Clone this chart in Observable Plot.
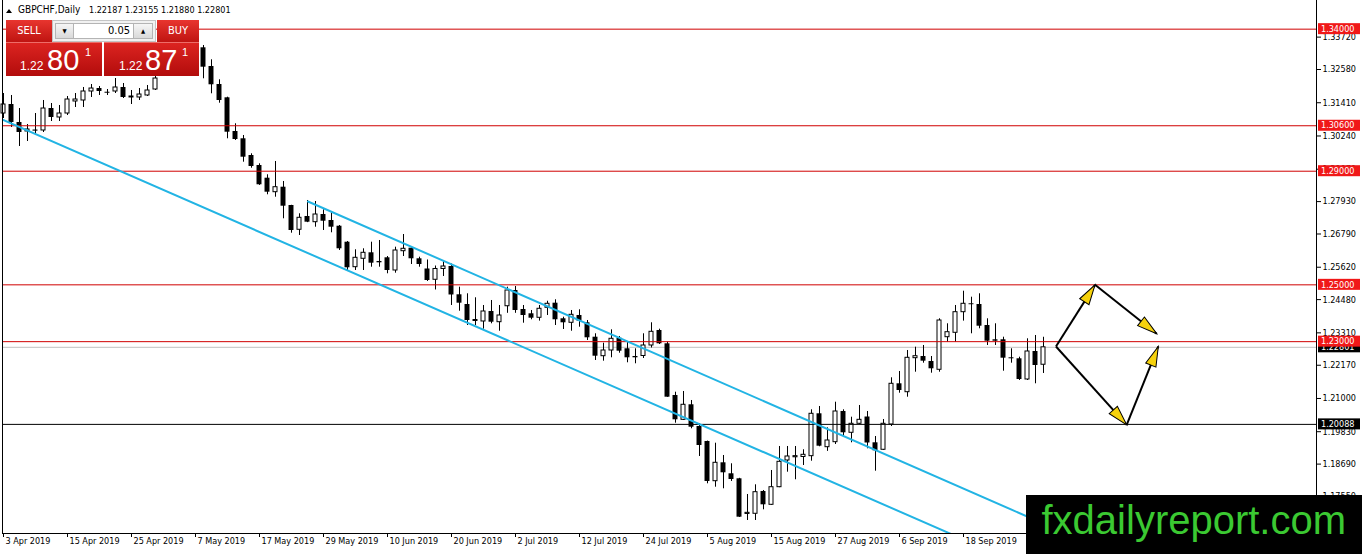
<!DOCTYPE html>
<html><head><meta charset="utf-8">
<script src="https://cdn.jsdelivr.net/npm/d3@7"></script>
<script src="https://cdn.jsdelivr.net/npm/@observablehq/plot@0.6"></script>
<style>
html,body{margin:0;padding:0;background:#fff;}
#wrap{position:relative;width:1362px;height:554px;overflow:hidden;background:#fff;}
#chart svg{display:block;}
.ov{position:absolute;box-sizing:border-box;}
.t{font-family:"DejaVu Sans Condensed","DejaVu Sans",sans-serif;}
.redbtn{background:linear-gradient(#e8352f,#bf1411);color:#fff;font-size:11px;line-height:22px;text-align:center;}
.pricebox{background:linear-gradient(#dc2420,#b20c0c);border-top:1px solid #ee6d68;}
.pf{position:absolute;font-family:"Liberation Sans",Arial,sans-serif;color:#fff;line-height:1;white-space:nowrap;}
.sb{position:absolute;top:2px;height:16px;box-sizing:border-box;background:linear-gradient(#f6f6f6,#d9d9d9);border:1px solid #b4b4b4;font-size:6px;line-height:14px;text-align:center;color:#000;}
</style></head><body>
<div id="wrap">
  <div id="chart"></div>
  <!-- title -->
  <div class="ov" style="left:6px;top:9px;width:0;height:0;border-left:3px solid transparent;border-right:3px solid transparent;border-bottom:4px solid #000;"></div>
  <div class="ov t" id="ttl1" style="left:18px;top:4.8px;font-size:10px;line-height:1;color:#000;white-space:nowrap"></div>
  <div class="ov t" id="ttl2" style="left:89px;top:5.7px;font-size:9px;line-height:1;color:#000;white-space:nowrap"></div>
  <!-- trade panel -->
  <div class="ov t redbtn" style="left:6px;top:20px;width:46px;height:22px;">SELL</div>
  <div class="ov t" style="left:52px;top:20px;width:104px;height:22px;background:#f1f1f1;border:1px solid #c4c4c4;">
    <div class="sb" style="left:2px;width:19px;">&#9660;</div>
    <div class="ov" id="lotbox" style="left:21px;top:2px;width:59px;height:16px;background:#fff;border-top:1px solid #b4b4b4;border-bottom:1px solid #b4b4b4;font-size:11px;line-height:14px;text-align:right;padding-right:3px;color:#000;"></div>
    <div class="sb" style="left:80px;width:20px;">&#9650;</div>
  </div>
  <div class="ov t redbtn" style="left:157px;top:20px;width:42px;height:22px;">BUY</div>
  <div class="ov pricebox" style="left:6px;top:42px;width:96px;height:34px;">
    <span class="pf" id="sellA" style="left:14px;top:16.6px;font-size:12px;"></span>
    <span class="pf" id="sellB" style="left:41px;top:3.3px;font-size:29px;"></span>
    <span class="pf" id="sellC" style="left:79px;top:3.6px;font-size:11px;"></span>
  </div>
  <div class="ov pricebox" style="left:104px;top:42px;width:95px;height:34px;">
    <span class="pf" id="buyA" style="left:15px;top:16.6px;font-size:12px;"></span>
    <span class="pf" id="buyB" style="left:41px;top:3.3px;font-size:29px;"></span>
    <span class="pf" id="buyC" style="left:78px;top:3.6px;font-size:11px;"></span>
  </div>
  <!-- watermark -->
  <div class="ov" style="left:1026px;top:495px;width:336px;height:59px;background:#000;">
    <span id="wm" style="position:absolute;left:15.5px;top:5px;font-family:'Liberation Sans',Arial,sans-serif;font-size:40px;line-height:1;color:#3bc932;white-space:nowrap;transform:scaleX(1.0);transform-origin:0 0;"></span>
  </div>
</div>
<script>
// ---------- data ----------
const symbolName = "GBPCHF,Daily";
const lastOHLC = [1.22187, 1.23155, 1.21880, 1.22801];
const lotSize = "0.05";
const sellPrice = ["1.22", "80", "1"];
const buyPrice = ["1.22", "87", "1"];
const watermark = "fxdailyreport.com";

const opens = [1.31031,1.31348,1.30715,1.30398,1.30450,1.30433,1.31207,1.30891,1.31031,1.31454,
1.31489,1.31806,1.31911,1.31780,1.31806,1.31947,1.31595,1.31595,1.31665,1.31876,
1.32420,1.32700,1.32600,1.33050,1.33200,1.33344,1.32686,1.32052,1.31584,1.30398,
1.30141,1.29553,1.29201,1.28754,1.28261,1.28437,1.27793,1.26938,1.27406,1.27205,
1.27476,1.27265,1.27064,1.26501,1.25621,1.25917,1.26128,1.25822,1.25952,1.25505,
1.26184,1.26290,1.25917,1.25558,1.25178,1.25558,1.25646,1.24650,1.24308,1.23780,
1.23710,1.24062,1.23685,1.24247,1.24801,1.24132,1.23981,1.23840,1.24192,1.24354,
1.23805,1.23664,1.23921,1.23664,1.23157,1.22488,1.22689,1.23122,1.22749,1.22478,
1.22495,1.22865,1.23393,1.22925,1.21105,1.20249,1.20778,1.20014,1.19486,1.18088,
1.18736,1.18349,1.18173,1.16935,1.16941,1.17726,1.17257,1.17877,1.18817,1.18930,
1.18940,1.18969,1.20461,1.19285,1.19461,1.20542,1.19792,1.20109,1.20348,1.19440,
1.19194,1.20084,1.21517,1.21221,1.22418,1.22477,1.22302,1.22010,1.23157,1.23312,
1.24037,1.24333,1.24308,1.23569,1.23066,1.23066,1.22432,1.22397,1.21668,1.22654,
1.22187];
const highs = [1.31735,1.31665,1.31207,1.30644,1.31031,1.31489,1.31383,1.31313,1.31630,1.31735,
1.31947,1.32052,1.31982,1.31876,1.32263,1.32087,1.31841,1.31911,1.32017,1.32404,
1.32800,1.33000,1.33150,1.33400,1.33600,1.33425,1.32922,1.32218,1.31605,1.30669,
1.30257,1.29613,1.29261,1.28874,1.29342,1.28638,1.27800,1.27501,1.27969,1.27934,
1.27642,1.27536,1.27089,1.26526,1.26234,1.26269,1.26501,1.26561,1.25997,1.26325,
1.26772,1.26325,1.25973,1.25875,1.25663,1.25839,1.25734,1.24917,1.24685,1.24544,
1.24273,1.24449,1.24273,1.24917,1.24942,1.24273,1.24097,1.24273,1.24423,1.24474,
1.23861,1.24097,1.24122,1.23745,1.23277,1.22946,1.23417,1.23182,1.22981,1.22749,
1.23277,1.23664,1.23439,1.22981,1.21221,1.21246,1.20929,1.20109,1.19500,1.19426,
1.18993,1.18701,1.18190,1.17620,1.17961,1.17761,1.18465,1.19310,1.19310,1.19310,
1.19194,1.20601,1.20718,1.19968,1.20869,1.20601,1.20341,1.20753,1.20542,1.19662,
1.20260,1.21728,1.21950,1.22689,1.22805,1.22865,1.22477,1.23805,1.23629,1.24273,
1.24776,1.24565,1.24685,1.23805,1.23629,1.23157,1.22749,1.22453,1.23101,1.23217,
1.23155];
const lows = [1.30855,1.30539,1.29870,1.30046,1.30257,1.30363,1.30750,1.30750,1.30961,1.31243,
1.31243,1.31595,1.31665,1.31665,1.31735,1.31559,1.31348,1.31489,1.31630,1.31841,
1.32400,1.32450,1.32500,1.32800,1.33000,1.32253,1.31725,1.31394,1.30141,1.30081,
1.29317,1.29106,1.28500,1.28170,1.28085,1.27325,1.26818,1.26737,1.27190,1.27029,
1.26913,1.26832,1.26209,1.25505,1.25505,1.25505,1.25621,1.25621,1.25389,1.25410,
1.25997,1.25716,1.25621,1.25118,1.24819,1.25294,1.24273,1.24072,1.23569,1.23569,
1.23439,1.23629,1.23368,1.23998,1.23998,1.23650,1.23770,1.23723,1.23921,1.23569,
1.23428,1.23368,1.23509,1.23041,1.22337,1.22313,1.22432,1.22594,1.22256,1.22221,
1.22407,1.22777,1.22900,1.21040,1.20130,1.20225,1.19933,1.18958,1.17997,1.17877,
1.17821,1.18078,1.16810,1.16705,1.16705,1.17081,1.17233,1.17860,1.18405,1.18138,
1.18641,1.18792,1.19300,1.19138,1.19380,1.19637,1.19440,1.20084,1.19229,1.18440,
1.19169,1.20014,1.21186,1.21045,1.21925,1.22242,1.21890,1.21925,1.22981,1.22981,
1.23723,1.23277,1.23453,1.22865,1.22865,1.21960,1.22242,1.21633,1.21633,1.21517,
1.21880];
const closes = [1.31348,1.30715,1.30363,1.30468,1.30410,1.31207,1.30891,1.31031,1.31524,1.31524,
1.31806,1.31911,1.31806,1.31745,1.31947,1.31595,1.31630,1.31700,1.31841,1.32263,
1.32700,1.32600,1.33050,1.33200,1.33420,1.32661,1.32042,1.31489,1.30373,1.30116,
1.29493,1.29166,1.28522,1.28261,1.28437,1.27768,1.26913,1.27360,1.27205,1.27476,
1.27240,1.27029,1.26269,1.25600,1.25952,1.26128,1.25762,1.25776,1.25505,1.26209,
1.26269,1.25917,1.25716,1.25153,1.25558,1.25646,1.24643,1.24354,1.23745,1.23710,
1.24062,1.23685,1.23921,1.24801,1.24097,1.23921,1.23826,1.24157,1.24333,1.23770,
1.23664,1.23945,1.23723,1.23136,1.22488,1.22689,1.23101,1.22664,1.22432,1.22432,
1.22865,1.23347,1.22925,1.21045,1.20249,1.20778,1.19989,1.19345,1.18078,1.18736,
1.18384,1.18148,1.16821,1.16975,1.17701,1.17257,1.17877,1.18771,1.18958,1.18970,
1.19017,1.20461,1.19320,1.19521,1.20542,1.19792,1.20109,1.20249,1.19433,1.19158,
1.20109,1.21517,1.21281,1.22432,1.22488,1.22313,1.22045,1.23745,1.23333,1.24037,
1.24333,1.24300,1.23544,1.23016,1.23016,1.22418,1.22397,1.21668,1.22654,1.22161,
1.22801];

const tickIdx = [0,8,16,24,32,40,48,56,64,72,80,88,96,104,112,120];
const tickLabels = ["3 Apr 2019","15 Apr 2019","25 Apr 2019","7 May 2019","17 May 2019","29 May 2019","10 Jun 2019","20 Jun 2019","2 Jul 2019","12 Jul 2019","24 Jul 2019","5 Aug 2019","15 Aug 2019","27 Aug 2019","6 Sep 2019","18 Sep 2019"];
const yTicks = [1.33720,1.32580,1.31410,1.30240,1.29070,1.27930,1.26790,1.25620,1.24480,1.23310,1.22170,1.21000,1.19830,1.18690,1.17550];

const redLevels = [1.34000,1.30600,1.29000,1.25000,1.23000];
const supportLevel = 1.20088;
const bidLevel = 1.22801;

const channelUpper = [[38.06, 1.27934],[164.1, 1.12388]];
const channelLower = [[-0.19, 1.30820],[164.1, 1.10614]];

const arrowFrom = [[131.56,1.2283],[136.44,1.2500],[131.56,1.2283],[140.40,1.2007]];
const arrowTo   = [[136.44,1.2500],[144.15,1.2328],[140.40,1.2007],[144.35,1.2283]];

// ---------- layout ----------
const W = 1362, H = 554;
const FONT = '"DejaVu Sans Condensed","DejaVu Sans",sans-serif';
const xDomain = [-0.125, 164.125];
const yDomain = [1.16247, 1.35009];
const mL = 2, mR = 46, mT = 0, mB = 21;

const bars = opens.map((o, i) => ({i, o, h: highs[i], l: lows[i], c: closes[i]}));
const bulls = bars.filter(d => d.c >= d.o);
const bears = bars.filter(d => d.c < d.o);

const sx = Plot.scale({x: {type: "linear", domain: xDomain, range: [mL, W - mR]}});
const sy = Plot.scale({y: {type: "linear", domain: yDomain, range: [H - mB, mT]}});
const arrows = arrowFrom.map((f, k) => {
  const t = arrowTo[k];
  const dx = sx.apply(t[0]) - sx.apply(f[0]);
  const dy = sy.apply(t[1]) - sy.apply(f[1]);
  return {x1: f[0], y1: f[1], x2: t[0], y2: t[1], angle: Math.atan2(dx, -dy) * 180 / Math.PI};
});
const headSymbol = {draw(ctx) { ctx.moveTo(0, 0); ctx.lineTo(5.5, 20); ctx.lineTo(-5.5, 20); ctx.closePath(); }};

const chart = Plot.plot({
  width: W, height: H,
  marginLeft: mL, marginRight: mR, marginTop: mT, marginBottom: mB,
  style: {background: "#fff", fontFamily: FONT, fontSize: "9px", color: "#000", overflow: "visible"},
  x: {type: "linear", domain: xDomain, axis: "bottom", ticks: tickIdx, tickFormat: () => "", tickSize: 4, label: null},
  y: {type: "linear", domain: yDomain, axis: "right", ticks: yTicks, tickFormat: d => d.toFixed(5), tickSize: 4, tickPadding: 2, label: null},
  marks: [
    Plot.ruleY([bidLevel], {stroke: "#c0c0c0"}),
    Plot.ruleX(bars, {x: "i", y1: "l", y2: "h", stroke: "#000", strokeWidth: 1}),
    Plot.rect(bears, {x1: d => d.i - 0.31, x2: d => d.i + 0.31, y1: "o", y2: "c", fill: "#000"}),
    Plot.rect(bulls, {x1: d => d.i - 0.25, x2: d => d.i + 0.25, y1: "o", y2: "c", fill: "#fff", stroke: "#000", strokeWidth: 1}),
    Plot.ruleY(redLevels, {stroke: "#d00000"}),
    Plot.ruleY([supportLevel], {stroke: "#000"}),
    Plot.line(channelLower, {x: d => d[0], y: d => d[1], stroke: "#22b4e4", strokeWidth: 2, clip: true}),
    Plot.line(channelUpper, {x: d => d[0], y: d => d[1], stroke: "#22b4e4", strokeWidth: 2, clip: true}),
    Plot.link(arrows, {x1: "x1", y1: "y1", x2: "x2", y2: "y2", stroke: "#000", strokeWidth: 2}),
    Plot.dot(arrows, {x: "x2", y: "y2", symbol: headSymbol, rotate: "angle", fill: "#f6d20c", stroke: "#000", strokeWidth: 1}),
    Plot.ruleX(xDomain, {stroke: "#000"}),
    Plot.ruleY([yDomain[0]], {stroke: "#000"}),
    Plot.text(tickIdx, {x: d => d, frameAnchor: "bottom", dy: 10, dx: 2, textAnchor: "start", text: (d, k) => tickLabels[k], fill: "#000"})
  ]
});
document.getElementById("chart").appendChild(chart);

// price labels on the right axis, positioned through the plot's y scale
const ys = chart.scale("y");
const g = d3.select(chart).append("g")
  .attr("font-family", FONT).attr("font-size", 9).attr("text-anchor", "start");
const labelDefs = [
  {v: bidLevel, fill: "#000"},
  {v: supportLevel, fill: "#000"},
  ...redLevels.map(v => ({v, fill: "#f01818"}))
];
for (const d of labelDefs) {
  const y = ys.apply(d.v);
  g.append("rect").attr("x", 1318).attr("y", y - 5.5).attr("width", 42).attr("height", 11).attr("fill", d.fill);
  g.append("text").attr("x", 1321).attr("y", y).attr("dy", "0.36em").attr("fill", "#fff")
    .attr("text-anchor", "start").text(d.v.toFixed(5));
}

// overlay texts
document.getElementById("ttl1").textContent = symbolName;
document.getElementById("ttl2").textContent = lastOHLC.map(v => v.toFixed(5)).join(" ");
document.getElementById("lotbox").textContent = lotSize;
document.getElementById("sellA").textContent = sellPrice[0];
document.getElementById("sellB").textContent = sellPrice[1];
document.getElementById("sellC").textContent = sellPrice[2];
document.getElementById("buyA").textContent = buyPrice[0];
document.getElementById("buyB").textContent = buyPrice[1];
document.getElementById("buyC").textContent = buyPrice[2];
document.getElementById("wm").textContent = watermark;
</script>
</body></html>
